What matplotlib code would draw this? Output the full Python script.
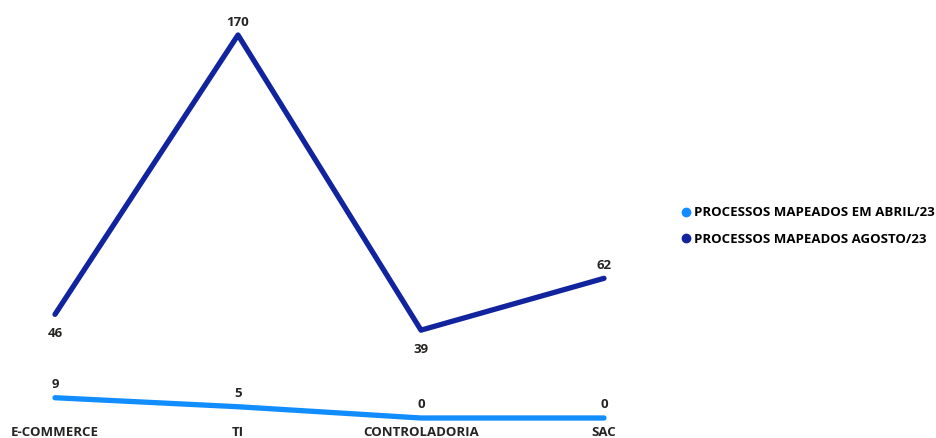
import matplotlib.pyplot as plt

categorias = ["E-COMMERCE", "TI", "CONTROLADORIA", "SAC"]
abril = [9, 5, 0, 0]
agosto = [46, 170, 39, 62]
# posicao do rotulo: acima (1) ou abaixo (-1) do ponto
pos_agosto = [-1, 1, -1, 1]
pos_abril = [1, 1, 1, 1]

cor_abril = "#118DFF"
cor_agosto = "#12239E"

plt.rcParams["font.family"] = ["Open Sans", "DejaVu Sans"]

fig = plt.figure(figsize=(9.37, 4.38), dpi=100)
ax = fig.add_axes([55 / 937, 20 / 438, 549 / 937, 383 / 438])

x = list(range(len(categorias)))
ax.plot(x, abril, color=cor_abril, lw=3.8, solid_capstyle="round",
        solid_joinstyle="round", clip_on=False, label="PROCESSOS MAPEADOS EM ABRIL/23")
ax.plot(x, agosto, color=cor_agosto, lw=3.8, solid_capstyle="round",
        solid_joinstyle="round", clip_on=False, label="PROCESSOS MAPEADOS AGOSTO/23")

for xi, v, p in zip(x, agosto, pos_agosto):
    ax.annotate(str(v), (xi, v), xytext=(0, 13 * p if p > 0 else -19),
                textcoords="offset pixels", ha="center", va="center",
                fontsize=9.5, fontweight="bold", color="#252423")
for xi, v, p in zip(x, abril, pos_abril):
    ax.annotate(str(v), (xi, v), xytext=(0, 13), textcoords="offset pixels",
                ha="center", va="center", fontsize=9.5, fontweight="bold", color="#252423")

ax.set_xlim(0, 3)
ax.set_ylim(0, 170)
ax.set_xticks(x)
ax.set_xticklabels(categorias, fontsize=9.5, fontweight="bold", color="#252423")
ax.tick_params(axis="x", length=0, pad=6)
ax.set_yticks([])
for s in ax.spines.values():
    s.set_visible(False)

handles = [plt.Line2D([], [], marker="o", ls="", color=c, markersize=6)
           for c in (cor_abril, cor_agosto)]
fig.legend(handles, ["PROCESSOS MAPEADOS EM ABRIL/23", "PROCESSOS MAPEADOS AGOSTO/23"],
           loc="center left", bbox_to_anchor=(668 / 937, 1 - 226 / 438),
           frameon=False, handletextpad=-0.4, labelspacing=1.0,
           borderaxespad=0, prop={"weight": "bold", "size": 9.5})

fig.savefig("out.png", dpi=100)
